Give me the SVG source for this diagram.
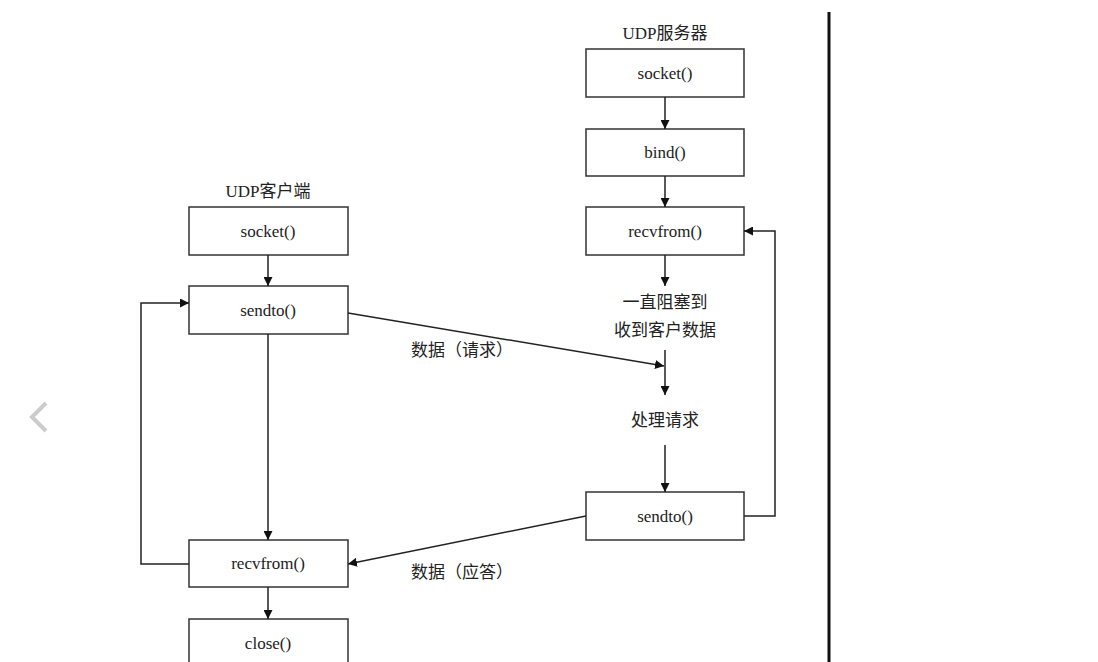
<svg xmlns="http://www.w3.org/2000/svg" width="1098" height="662" viewBox="0 0 1098 662">
<style>
rect.b{fill:#fff;stroke:#333;stroke-width:1.5}
text{font-family:"Liberation Serif","Noto Sans CJK SC",serif;font-size:17px;fill:#222;text-anchor:middle}
.c path,.c line{fill:none;stroke:#222;stroke-width:1.5}
</style>
<defs><marker id="a" viewBox="0 0 10 10" refX="10" refY="5" markerWidth="9" markerHeight="9" markerUnits="userSpaceOnUse" orient="auto"><path d="M0,0L10,5L0,10z" fill="#111"/></marker></defs>
<rect width="1098" height="662" fill="#fff"/>
<polyline points="46,403 32,417 46,431" fill="none" stroke="#ccc" stroke-width="4"/>
<line x1="829" y1="12" x2="829" y2="662" stroke="#111" stroke-width="3"/>
<text x="268" y="197">UDP客户端</text>
<text x="665" y="39">UDP服务器</text>
<g id="c_socket"><rect class="b" x="189" y="207" width="159" height="48"/><text x="268" y="237">socket()</text></g>
<g id="c_sendto"><rect class="b" x="189" y="286" width="159" height="48"/><text x="268" y="316">sendto()</text></g>
<g id="c_recvfrom"><rect class="b" x="189" y="540" width="159" height="47"/><text x="268" y="569">recvfrom()</text></g>
<g id="c_close"><rect class="b" x="189" y="619" width="159" height="50"/><text x="268" y="649">close()</text></g>
<g id="s_socket"><rect class="b" x="586" y="49" width="158" height="48"/><text x="665" y="79">socket()</text></g>
<g id="s_bind"><rect class="b" x="586" y="129" width="158" height="47"/><text x="665" y="158">bind()</text></g>
<g id="s_recvfrom"><rect class="b" x="586" y="207" width="158" height="48"/><text x="665" y="237">recvfrom()</text></g>
<g id="s_block"><text x="665" y="308">一直阻塞到</text><text x="665" y="336">收到客户数据</text></g>
<g id="s_proc"><text x="665" y="426">处理请求</text></g>
<g id="s_sendto"><rect class="b" x="586" y="492" width="158" height="48"/><text x="665" y="522">sendto()</text></g>
<g class="c">
<line x1="665" y1="97" x2="665" y2="129" marker-end="url(#a)"/>
<line x1="665" y1="176" x2="665" y2="207" marker-end="url(#a)"/>
<line x1="665" y1="255" x2="665" y2="286" marker-end="url(#a)"/>
<line x1="665" y1="350" x2="665" y2="395" marker-end="url(#a)"/>
<line x1="665" y1="445" x2="665" y2="492" marker-end="url(#a)"/>
<path d="M744,516H775V231H744" marker-end="url(#a)"/>
<line x1="348" y1="313" x2="664" y2="366" marker-end="url(#a)"/>
<line x1="586" y1="516" x2="348" y2="564" marker-end="url(#a)"/>
<line x1="268" y1="255" x2="268" y2="286" marker-end="url(#a)"/>
<line x1="268" y1="334" x2="268" y2="540" marker-end="url(#a)"/>
<line x1="268" y1="587" x2="268" y2="619" marker-end="url(#a)"/>
<path d="M189,564H141V303H189" marker-end="url(#a)"/>
</g>
<text x="462" y="356">数据（请求）</text>
<text x="462" y="578">数据（应答）</text>
</svg>
